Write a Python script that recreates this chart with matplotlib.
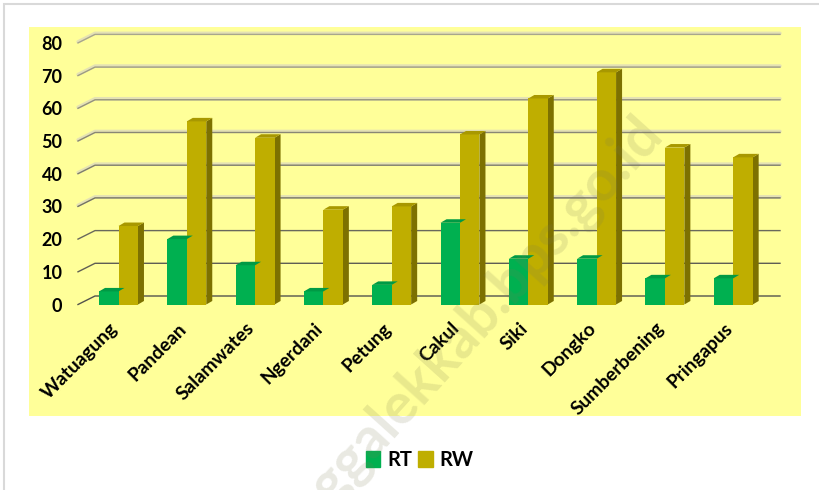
import matplotlib.pyplot as plt
import numpy as np
from matplotlib.patches import Polygon, Rectangle, Patch

# data
desa = ['Watuagung', 'Pandean', 'Salamwates', 'Ngerdani', 'Petung',
        'Cakul', 'Siki', 'Dongko', 'Sumberbening', 'Pringapus']
rt = [4, 20, 12, 4, 6, 25, 14, 14, 8, 8]
rw = [24, 56, 51, 29, 30, 52, 63, 71, 48, 45]
yticks = [0, 10, 20, 30, 40, 50, 60, 70, 80]

W, H = 819, 490
fig = plt.figure(figsize=(W / 100, H / 100), dpi=100)
fig.patch.set_facecolor('white')

# light gray frame round the chart (runs off right / bottom edge)
fig.add_artist(Rectangle((4 / W, -0.1), 1.2, 1 - 4 / H + 0.1, transform=fig.transFigure,
                         fill=False, ec='#d9d9d9', lw=1.5))

# plot area (yellow)
ax = fig.add_axes([29 / W, 1 - 416 / H, (801 - 29) / W, (416 - 27) / H])
ax.set_facecolor('#ffff99')
for s in ax.spines.values():
    s.set_visible(False)

x0_px, dx_px = 118.5, 68.3        # category centre and spacing, pixels
y0_px, dy_px = 304.5, 3.27        # front baseline and pixels per unit
ax.set_xlim((29 - x0_px) / dx_px, (801 - x0_px) / dx_px)
ax.set_ylim((y0_px - 416) / dy_px, (y0_px - 27) / dy_px)

# back wall depth
wdx, wdy = 17 / dx_px, 8.5 / dy_px
gx0 = (78 - x0_px) / dx_px
gx1 = (780 - x0_px) / dx_px
for v in yticks:
    t = v / 80
    dark = np.array([0.33, 0.33, 0.30]) * (1 - t) + np.array([0.66, 0.65, 0.55]) * t
    xs = [gx0, gx0 + wdx, gx1]
    ys = [v, v + wdy, v + wdy]
    if v >= 30:
        ax.plot(xs, [y + 0.35 for y in ys], color='#e4e1b4', lw=2.4, zorder=1,
                solid_capstyle='round')
    ax.plot(xs, ys, color=dark, lw=1.0, zorder=1.1)

# bars with a simple 3d look
x = np.arange(len(desa))
w = 0.285
bdx, bdy = 6 / dx_px, 3.5 / dy_px
series = [(rt, -w / 2, '#00b050', '#008a3c', '#009a45'),
          (rw, w / 2, '#bfae00', '#7d7100', '#a89800')]
for vals, off, front, side, top in series:
    ax.bar(x + off, vals, w, color=front, zorder=3)
    for xi, h in zip(x + off, vals):
        xl, xr = xi - w / 2, xi + w / 2
        ax.add_patch(Polygon([(xr, 0), (xr + bdx, bdy), (xr + bdx, h + bdy), (xr, h)],
                             closed=True, fc=side, ec='none', zorder=2.5))
        ax.add_patch(Polygon([(xl, h), (xl + bdx, h + bdy), (xr + bdx, h + bdy), (xr, h)],
                             closed=True, fc=top, ec='none', zorder=3.2))

# y tick labels sit inside the yellow area
ax.set_yticks(yticks)
ax.set_yticklabels([str(v) for v in yticks], fontfamily='Lato', fontweight='bold',
                   fontsize=13)
ax.tick_params(axis='y', length=0, pad=-24)
ax.set_xticks([])

for xi, name in zip(x, desa):
    ax.text(xi - 0.14, -4.6, name, rotation=45, ha='right', va='top',
            rotation_mode='anchor', fontfamily='Lato', fontweight='bold', fontsize=13.8)

# legend
fig.legend(handles=[Patch(color='#00b050', label='RT'), Patch(color='#bfae00', label='RW')],
           loc='center', bbox_to_anchor=(420 / W, 1 - 460 / H), ncol=2, frameon=False,
           handlelength=0.7, handleheight=0.85, handletextpad=0.35, columnspacing=0.3,
           prop={'family': 'Lato', 'weight': 'bold', 'size': 14.5})

# faint watermark
fig.text(653 / W, 1 - 126 / H, 'trenggalekkab.bps.go.id', rotation=48,
         ha='right', va='center', rotation_mode='anchor', fontfamily='Lato',
         fontweight='bold', fontsize=41, color='#7a7a50', alpha=0.17, zorder=10)

fig.savefig('out.png', dpi=100)
